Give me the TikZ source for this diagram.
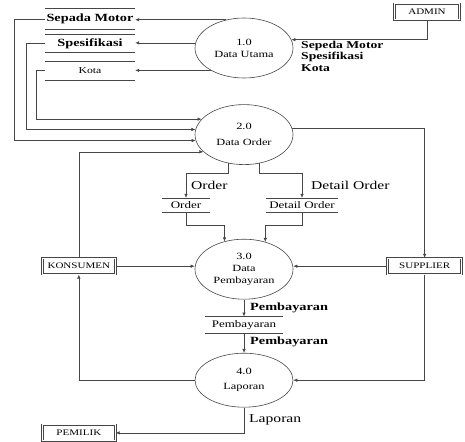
\documentclass[tikz,border=0pt]{standalone}
\usepackage{fontspec}
\setmainfont{Liberation Serif}[FakeStretch=1.3]
\usetikzlibrary{shapes.geometric, arrows.meta, positioning}
\definecolor{garis}{RGB}{70,70,70}

\begin{document}
\begin{tikzpicture}[x=1pt, y=1pt,
  proses/.style={ellipse, draw=garis, line width=0.6pt, minimum width=98pt, minimum height=60pt, inner sep=0pt, align=center, font=\fontsize{9.5}{12}\selectfont},
  entitas/.style={rectangle, draw=garis, double=white, double distance=1pt, line width=0.7pt, minimum height=16pt, inner sep=1pt, font=\fontsize{8.5}{9}\selectfont},
  simpan/.style={rectangle, inner sep=1pt, font=\fontsize{10}{10}\selectfont, append after command={(\tikzlastnode.north west) edge[draw=garis, line width=0.6pt] (\tikzlastnode.north east) (\tikzlastnode.south west) edge[draw=garis, line width=0.6pt] (\tikzlastnode.south east)}},
  lbl/.style={inner sep=0pt, anchor=west, font=\fontsize{12}{12}\selectfont},
  lblb/.style={inner sep=0pt, anchor=west, font=\fontsize{11}{11}\selectfont\bfseries},
  arr/.style={-{Latex[length=4pt, width=3.5pt]}, draw=garis, line width=0.6pt}
]
\useasboundingbox (0,0) rectangle (465,-441);

\node[proses] (du) at (244,-48) {1.0\\Data Utama};
\node[proses, below=26pt of du] (do) {2.0\\[4pt]Data Order};
\node[proses, below=74pt of do] (dp) {3.0\\Data\\Pembayaran};
\node[simpan, below=17pt of dp, minimum width=78pt, minimum height=16pt] (pem) {Pembayaran};
\node[proses, below=20pt of pem, minimum height=54pt] (lap) {4.0\\[3pt]Laporan};

\node[simpan, minimum width=90pt, minimum height=20pt, font=\fontsize{11}{11}\selectfont\bfseries] (sm) at (90,-19) {Sepada Motor};
\node[simpan, below=5pt of sm, minimum width=90pt, minimum height=18pt, font=\fontsize{11}{11}\selectfont\bfseries] (ss) {Spesifikasi};
\node[simpan, below=9pt of ss, minimum width=90pt, minimum height=18pt, font=\fontsize{9}{9}\selectfont] (sk) {Kota};
\node[simpan, below=33pt of do, xshift=-58pt, minimum width=48pt, minimum height=14pt] (ord) {Order};
\node[simpan, below=33pt of do, xshift=58pt, minimum width=72pt, minimum height=14pt] (dor) {Detail Order};

\node[entitas, minimum width=65pt] (adm) at (427,-12) {ADMIN};
\node[entitas, left=79pt of dp, yshift=3pt, minimum width=73pt] (kon) {KONSUMEN};
\node[entitas, right=94pt of dp, yshift=3pt, minimum width=74pt] (sup) {SUPPLIER};
\node[entitas, below=150pt of kon, minimum width=73pt] (pml) {PEMILIK};

\node[lblb, anchor=north west, align=left, font=\fontsize{10.5}{11.5}\selectfont\bfseries] (lbadm) at (301,-41) {Sepeda Motor\\Spesifikasi\\Kota};
\node[lbl] (lbord) at (191,-185) {Order};
\node[lbl] (lbdor) at (311,-185) {Detail Order};
\node[lblb] (lbpem1) at (250,-308) {Pembayaran};
\node[lblb] (lbpem2) at (250,-342) {Pembayaran};
\node[lbl] (lblap) at (249,-420) {Laporan};

\draw[arr] (adm.south) |- (du.10);
\draw[arr] (du.122) -- (du.122 -| sm.east);
\draw[arr] (du.174) -- (du.174 -| ss.east);
\draw[arr] (du.214) -- (du.214 -| sk.east);

\draw[arr] (sm.west) -- ++(-31,0) |- (do.187);
\draw[arr] (ss.west) -- ++(-19,0) |- (do.174);
\draw[arr] (sk.west) -- ++(-9,0) |- (do.160);
\draw[arr] (kon.north) |- (do.203);

\draw[arr] (do.242) -- ++(0,-10) -| (ord.north);
\draw[arr] (do.298) -- ++(0,-10) -| (dor.north);
\draw[arr] (ord.south) -- ++(0,-13) -| (dp.125);
\draw[arr] (dor.south) -- ++(0,-13) -| (dp.52);
\draw[arr] (do.8) -| (sup.north);

\draw[arr] (sup.west) -- (sup.west -| dp.east);
\draw[arr] (kon.east) -- (kon.east -| dp.west);
\draw[arr] (dp.south) -- (pem.north);
\draw[arr] (pem.south) -- (lap.north);
\draw[arr] (sup.south) |- (lap.east);
\draw[arr] (lap.west) -| (kon.south);
\draw[arr] (lap.south) |- (pml.east);
\end{tikzpicture}
\end{document}
